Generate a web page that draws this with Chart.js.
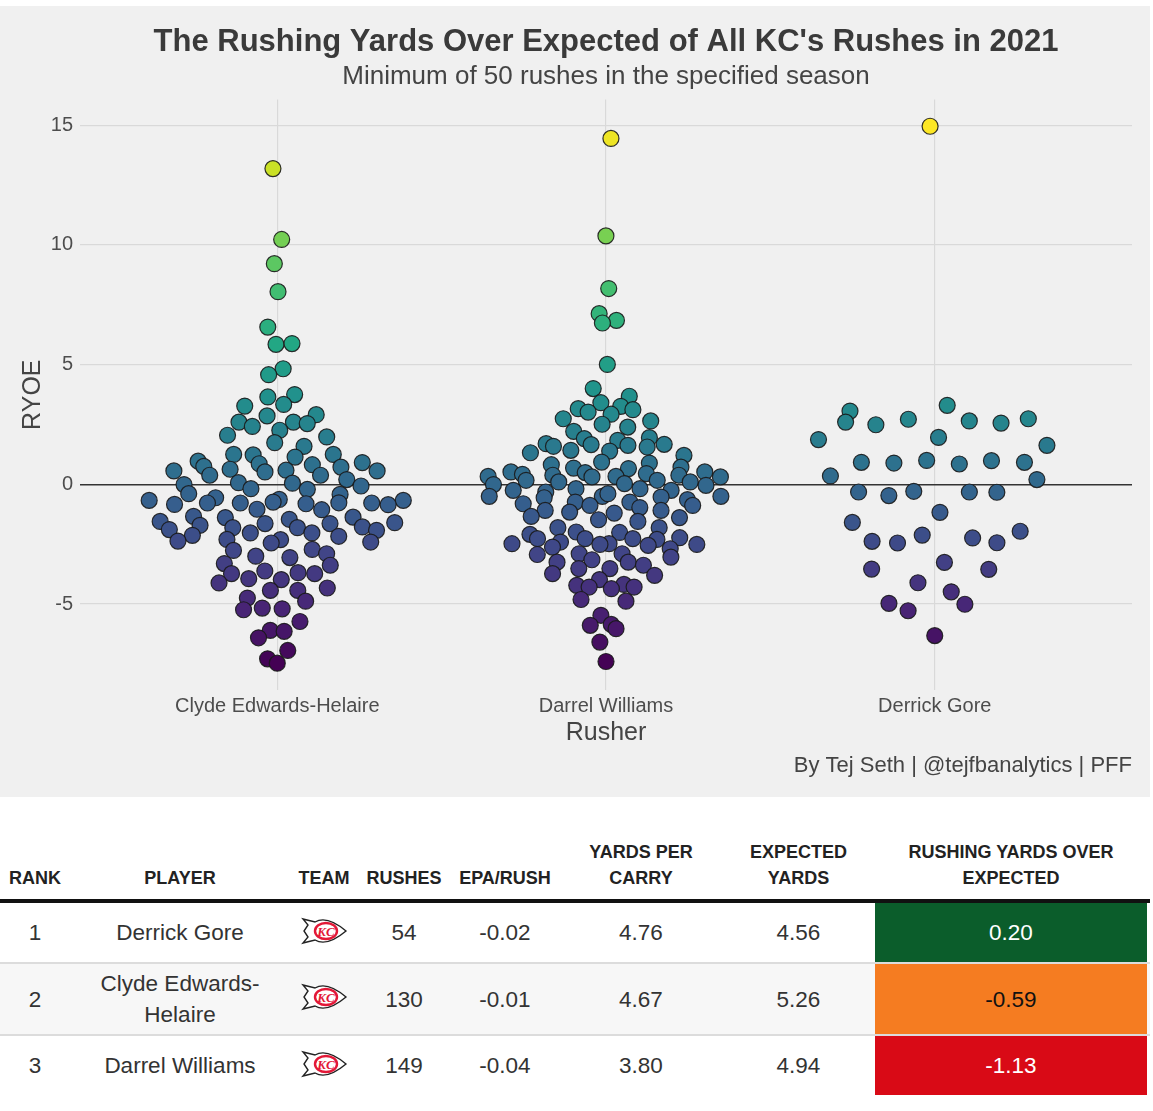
<!DOCTYPE html>
<html>
<head>
<meta charset="utf-8">
<script src="https://cdn.jsdelivr.net/npm/chart.js@4.4.0/dist/chart.umd.min.js"></script>
<style>
  body { margin: 0; background: #fff; font-family: "Liberation Sans", Arial, Helvetica, sans-serif; width: 1153px; height: 1111px; position: relative; overflow: hidden; }
  #panel { position: absolute; left: 0; top: 6px; width: 1150px; height: 791px; background: #f0f0f0; }
  #panel canvas { display: block; }
  table { position: absolute; left: 0; top: 831px; width: 1150px; border-collapse: collapse; table-layout: fixed; color: #333; }
  th { font-size: 18px; font-weight: bold; line-height: 26px; vertical-align: bottom; padding: 8px 0 8px 0; border-bottom: 4px solid #111; color: #222; text-align: center; }
  td { font-size: 22.5px; text-align: center; padding: 0; line-height: 31px; }
  tr.sep td { border-bottom: 2px solid #dcdcdc; }
  tr.alt td { background: #f7f7f7; }
</style>
</head>
<body>
<div id="panel"><canvas id="chart" width="1150" height="791"></canvas></div>
<table id="tbl"></table>

<script>
const rushers = ['Clyde Edwards-Helaire', 'Darrel Williams', 'Derrick Gore'];

// RYOE of each rush
const ryoeClyde = [13.19, 10.23, 9.22, 8.05, 6.57, 5.85, 5.88, 4.83, 4.58, 3.65, 3.75, 3.34, 3.27, 2.86, 2.91, 2.60, 2.42, 2.60, 2.54, 2.26,
  2.05, 1.98, 1.74, 1.59, 1.25, 1.23, 1.25, 0.97, 1.14, 0.86, 0.82, 0.91, 0.75, 0.63, 0.72, 0.56, 0.59, 0.52, 0.56, 0.38, 0.38,
  0.20, 0.07, 0.05, -0.01, -0.07, -0.18, -0.21, -0.39, -0.42, -0.56, -0.63, -0.67, -0.67, -0.74, -0.77, -0.78, -0.78, -0.78, -0.81,
  -0.84, -0.85, -1.04, -1.06, -1.34, -1.37, -1.39, -1.46, -1.55, -1.60, -1.64, -1.64, -1.71, -1.78, -1.81, -1.81, -1.89, -1.92,
  -2.03, -2.03, -2.13, -2.17, -2.30, -2.31, -2.37, -2.41, -2.45, -2.72, -2.76, -2.90, -3.00, -3.06, -3.31, -3.38, -3.62, -3.69,
  -3.73, -3.73, -3.94, -3.98, -4.12, -4.33, -4.43, -4.43, -4.75, -4.88, -5.17, -5.20, -5.24, -5.73, -6.10, -6.14, -6.41, -6.94,
  -7.29, -7.47];
const ryoeDarrel = [14.45, 10.38, 8.18, 7.13, 6.85, 6.74, 5.01, 4.00, 3.68, 3.41, 3.26, 3.16, 3.12, 3.02, 2.93, 2.74, 2.65, 2.51, 2.39,
  2.21, 1.95, 1.91, 1.84, 1.70, 1.67, 1.66, 1.63, 1.59, 1.56, 1.42, 1.39, 1.32, 1.21, 0.93, 0.89, 0.82, 0.72, 0.68, 0.66, 0.52, 0.52,
  0.49, 0.45, 0.42, 0.38, 0.38, 0.33, 0.33, 0.31, 0.31, 0.17, 0.17, 0.10, 0.10, 0.03, -0.01, -0.04, -0.18, -0.18, -0.25, -0.25,
  -0.32, -0.50, -0.39, -0.50, -0.50, -0.53, -0.56, -0.64, -0.74, -0.74, -0.81, -0.88, -0.88, -0.97, -1.09, -1.09, -1.16, -1.20,
  -1.34, -1.39, -1.48, -1.55, -1.81, -1.81, -1.99, -2.01, -2.09, -2.23, -2.27, -2.27, -2.27, -2.30, -2.41, -2.48, -2.48, -2.51,
  -2.51, -2.55, -2.62, -2.69, -2.90, -2.90, -2.93, -3.04, -3.15, -3.25, -3.25, -3.38, -3.52, -3.52, -3.73, -3.80, -3.98, -4.18,
  -4.22, -4.29, -4.29, -4.36, -4.81, -4.88, -5.47, -5.85, -5.89, -6.03, -6.59, -7.40];
const ryoeGore = [14.96, 3.30, 3.06, 2.74, 2.72, 2.65, 2.60, 2.56, 2.49, 1.96, 1.87, 1.63, 1.00, 0.99, 0.92, 0.92, 0.89, 0.85, 0.35,
  0.20, -0.29, -0.32, -0.32, -0.33, -0.47, -1.17, -1.59, -1.96, -2.12, -2.24, -2.38, -2.44, -2.45, -3.26, -3.54, -3.55, -4.11,
  -4.49, -4.97, -5.01, -5.28, -6.32];
const yTicks = [-5, 0, 5, 10, 15];

// table below the chart
const tableRank = [1, 2, 3];
const tablePlayer = ['Derrick Gore', 'Clyde Edwards-<br>Helaire', 'Darrel Williams'];
const tableRushes = [54, 130, 149];
const tableEpa = ['-0.02', '-0.01', '-0.04'];
const tableYpc = ['4.76', '4.67', '3.80'];
const tableExpected = ['4.56', '5.26', '4.94'];
const tableRyoe = ['0.20', '-0.59', '-1.13'];
const ryoeFill = ['#0b5d2b', '#f57c21', '#d90a16'];
const ryoeText = ['#fff', '#111', '#fff'];

const allValues = [ryoeClyde, ryoeDarrel, ryoeGore];

// viridis colour scale
const viridisStops = ['#440154', '#482475', '#414487', '#355f8d', '#2a788e', '#21918c', '#22a884', '#44bf70', '#7ad151', '#bddf26', '#fde725'];
function hexRgb(h) { return [1, 3, 5].map(i => parseInt(h.substr(i, 2), 16)); }
function viridis(t) {
  t = Math.max(0, Math.min(1, t));
  const p = t * (viridisStops.length - 1);
  const i = Math.min(Math.floor(p), viridisStops.length - 2);
  const f = p - i;
  const a = hexRgb(viridisStops[i]), b = hexRgb(viridisStops[i + 1]);
  return 'rgb(' + a.map((c, k) => Math.round(c + (b[k] - c) * f)).join(',') + ')';
}

// quasirandom offsets like ggbeeswarm::geom_quasirandom
function vanDerCorput(n) {
  const out = [];
  for (let i = 1; i <= n; i++) {
    let v = 0, denom = 1, k = i;
    while (k > 0) { denom *= 2; v += (k % 2) / denom; k = Math.floor(k / 2); }
    out.push(v);
  }
  return out;
}
function quantile(s, p) {
  const h = (s.length - 1) * p, lo = Math.floor(h);
  const hi = Math.min(lo + 1, s.length - 1);
  return s[lo] + (h - lo) * (s[hi] - s[lo]);
}
function bwNrd0(v) {
  const n = v.length;
  const mean = v.reduce((a, b) => a + b, 0) / n;
  const sd = Math.sqrt(v.reduce((a, b) => a + (b - mean) ** 2, 0) / (n - 1));
  const s = [...v].sort((a, b) => a - b);
  const iqr = quantile(s, 0.75) - quantile(s, 0.25);
  return 0.9 * Math.min(sd, iqr / 1.34) * Math.pow(n, -0.2);
}
function quasirandom(values, center) {
  const n = values.length;
  const bw = 0.5 * bwNrd0(values);
  const dens = y => values.reduce((a, v) => a + Math.exp(-0.5 * ((y - v) / bw) ** 2), 0);
  const lo = Math.min(...values) - 3 * bw, hi = Math.max(...values) + 3 * bw;
  let maxD = 0;
  for (let i = 0; i < 512; i++) maxD = Math.max(maxD, dens(lo + (hi - lo) * i / 511));
  const order = values.map((v, i) => i).sort((a, b) => values[a] - values[b] || a - b);
  const rank = [];
  order.forEach((idx, r) => { rank[idx] = r; });
  const vdc = vanDerCorput(n);
  return values.map((v, i) => ({ x: center + (vdc[rank[i]] - 0.5) * 2 * 0.4 * dens(v) / maxD, y: v }));
}

const flat = allValues.flat();
const vMin = Math.min(...flat), vMax = Math.max(...flat);
const pad = (vMax - vMin) * 0.05;

const captionPlugin = {
  id: 'caption',
  afterDraw(chart) {
    const ctx = chart.ctx;
    ctx.save();
    ctx.font = '22px "Liberation Sans", Arial, sans-serif';
    ctx.fillStyle = '#444';
    ctx.textAlign = 'right';
    ctx.textBaseline = 'middle';
    ctx.fillText('By Tej Seth | @tejfbanalytics | PFF', chart.chartArea.right, chart.height - 31);
    ctx.restore();
  }
};

Chart.defaults.font.family = '"Liberation Sans", Arial, Helvetica, sans-serif';

new Chart(document.getElementById('chart'), {
  type: 'scatter',
  data: {
    datasets: allValues.map((vals, i) => ({
      label: rushers[i],
      data: quasirandom(vals, i + 1),
      backgroundColor: vals.map(v => viridis((v - vMin) / (vMax - vMin))),
      borderColor: 'rgba(25,25,25,0.9)',
      borderWidth: 1.2,
      pointRadius: 8,
      pointHoverRadius: 8
    }))
  },
  options: {
    responsive: false,
    animation: false,
    events: [],
    layout: { padding: { top: 18, right: 18, bottom: 49, left: 0 } },
    plugins: {
      legend: { display: false },
      tooltip: { enabled: false },
      title: {
        display: true, fullSize: false,
        text: "The Rushing Yards Over Expected of All KC's Rushes in 2021",
        color: '#3a3a3a', font: { size: 31, weight: 'bold' },
        padding: { top: 0, bottom: 0 }
      },
      subtitle: {
        display: true, fullSize: false,
        text: 'Minimum of 50 rushes in the specified season',
        color: '#444', font: { size: 26 },
        padding: { top: 0, bottom: 7 }
      }
    },
    scales: {
      x: {
        type: 'linear', min: 0.4, max: 3.6,
        afterBuildTicks: s => { s.ticks = rushers.map((r, i) => ({ value: i + 1 })); },
        afterFit: s => { s.height = 58; },
        border: { display: false },
        grid: { color: '#d9d9d9', lineWidth: 1.2, drawTicks: false },
        ticks: { autoSkip: false, maxRotation: 0, padding: 4, color: '#4d4d4d', font: { size: 20 }, callback: v => rushers[v - 1] },
        title: { display: true, text: 'Rusher', color: '#444', font: { size: 25 }, padding: 0 }
      },
      y: {
        min: vMin - pad, max: vMax + pad,
        afterBuildTicks: s => { s.ticks = yTicks.map(v => ({ value: v })); },
        afterFit: s => { s.width = 80; },
        border: { display: false },
        grid: {
          drawTicks: false,
          color: c => c.tick && c.tick.value === 0 ? '#333' : '#d9d9d9',
          lineWidth: c => c.tick && c.tick.value === 0 ? 1.6 : 1.2
        },
        ticks: { padding: 7, color: '#4d4d4d', font: { size: 20 } },
        title: { display: true, text: 'RYOE', color: '#444', font: { size: 25 }, padding: { top: 18, bottom: 0 } }
      }
    }
  },
  plugins: [captionPlugin]
});

// table
const tbl = document.getElementById('tbl');
let html = '<colgroup><col style="width:70px"><col style="width:220px"><col style="width:68px"><col style="width:92px">' +
  '<col style="width:110px"><col style="width:162px"><col style="width:153px"><col style="width:272px"><col></colgroup>';
html += '<thead><tr><th>RANK</th><th>PLAYER</th><th>TEAM</th><th>RUSHES</th><th>EPA/RUSH</th>' +
  '<th>YARDS PER<br>CARRY</th><th>EXPECTED<br>YARDS</th><th>RUSHING YARDS OVER<br>EXPECTED</th><th></th></tr></thead><tbody>';
const rowHeights = [62, 72, 60];
const logo = '<svg width="48" height="34" viewBox="0 0 48 32">' +
  '<path d="M3 4 L15 7 Q27 0 46 16 Q27 32 15 25 L3 28 L8 22 L4 16 L8 10 Z" fill="#fff" stroke="#222" stroke-width="1.4"/>' +
  '<ellipse cx="26" cy="16" rx="11" ry="8" fill="none" stroke="#e31837" stroke-width="2.4"/>' +
  '<text x="26" y="21" font-size="13" font-weight="bold" font-style="italic" fill="#e31837" text-anchor="middle" font-family="Liberation Serif">KC</text></svg>';
tableRank.forEach((r, i) => {
  const cls = (i < tableRank.length - 1 ? 'sep' : '') + (i === 1 ? ' alt' : '');
  html += '<tr class="' + cls + '" style="height:' + rowHeights[i] + 'px">' +
    '<td>' + r + '</td><td>' + tablePlayer[i] + '</td><td style="padding-top:4px">' + logo + '</td>' +
    '<td>' + tableRushes[i] + '</td><td>' + tableEpa[i] + '</td><td>' + tableYpc[i] + '</td><td>' + tableExpected[i] + '</td>' +
    '<td style="background:' + ryoeFill[i] + ';color:' + ryoeText[i] + '">' + tableRyoe[i] + '</td><td></td></tr>';
});
html += '</tbody>';
tbl.innerHTML = html;
</script>
</body>
</html>
